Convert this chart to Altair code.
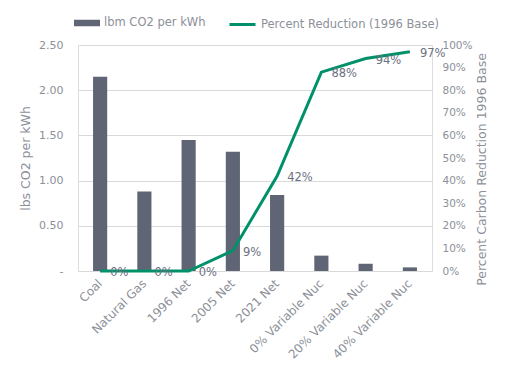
import altair as alt
import pandas as pd

categories = ["Coal", "Natural Gas", "1996 Net", "2005 Net", "2021 Net",
              "0% Variable Nuc", "20% Variable Nuc", "40% Variable Nuc"]
lbs_per_kwh = [2.15, 0.88, 1.45, 1.32, 0.84, 0.17, 0.08, 0.04]
pct_reduction = [0.0, 0.0, 0.0, 0.09, 0.42, 0.88, 0.94, 0.97]

BAR_NAME = "lbm CO2 per kWh"
LINE_NAME = "Percent Reduction (1996 Base)"

df = pd.DataFrame({
    "cat": categories,
    "lbs": lbs_per_kwh,
    "pct": pct_reduction,
    "bar_s": [BAR_NAME] * len(categories),
    "line_s": [LINE_NAME] * len(categories),
})

FONT = "DejaVu Sans"
AXIS_GREY = "#8c9099"
LABEL_GREY = "#6b7080"
BAR_C = "#5f6575"
LINE_C = "#00916a"

x = alt.X("cat:N", sort=categories, title=None,
          scale=alt.Scale(paddingInner=0.68, paddingOuter=0.34),
          axis=alt.Axis(labelAngle=315, labelAlign="right", labelBaseline="middle",
                        labelPadding=10, ticks=False, domainColor="#d9d9d9",
                        labelColor=AXIS_GREY, labelFontSize=12, labelFont=FONT,
                        labelLimit=0))

bars = alt.Chart(df).mark_bar(color=BAR_C).encode(
    x=x,
    y=alt.Y("lbs:Q", title="lbs CO2 per kWh",
            scale=alt.Scale(domain=[0, 2.5], nice=False),
            axis=alt.Axis(values=[0, 0.5, 1.0, 1.5, 2.0, 2.5],
                          labelExpr="datum.value == 0 ? '-' : format(datum.value, '.2f')",
                          grid=True, gridColor="#d9d9d9", domain=False, ticks=False,
                          labelPadding=15, labelColor=AXIS_GREY, labelFontSize=11,
                          labelFont=FONT, titleColor=AXIS_GREY, titleFont=FONT,
                          titleFontSize=12.5, titleFontWeight="normal", titlePadding=6)),
    fill=alt.Fill("bar_s:N", scale=alt.Scale(domain=[BAR_NAME], range=[BAR_C]),
                  legend=alt.Legend(title=None, orient="none", legendX=-4, legendY=-35,
                                    symbolType="M-1,-0.25H1V0.25H-1Z", symbolSize=676,
                                    symbolStrokeWidth=0, labelOffset=4, padding=0,
                                    labelLimit=0,
                                    labelColor=AXIS_GREY, labelFontSize=11.5, labelFont=FONT)),
)

y_pct = alt.Y("pct:Q", title="Percent Carbon Reduction 1996 Base",
              scale=alt.Scale(domain=[0, 1], nice=False),
              axis=alt.Axis(orient="right", values=[i / 10 for i in range(11)], format=".0%",
                            grid=False, domain=False, ticks=False, labelPadding=10,
                            labelColor=AXIS_GREY, labelFontSize=10.5, labelFont=FONT,
                            titleColor=AXIS_GREY, titleFont=FONT, titleFontSize=12.5,
                            titleFontWeight="normal", titleAngle=270, titlePadding=16,
                            titleY=124))

line = alt.Chart(df).mark_line(color=LINE_C, strokeWidth=3).encode(
    x=x,
    y=y_pct,
    stroke=alt.Stroke("line_s:N", scale=alt.Scale(domain=[LINE_NAME], range=[LINE_C]),
                      legend=alt.Legend(title=None, orient="none", legendX=150, legendY=-35,
                                        symbolType="stroke", symbolSize=676,
                                        symbolStrokeWidth=3, labelOffset=4, padding=0,
                                        labelLimit=0,
                                        labelColor=AXIS_GREY, labelFontSize=11.5, labelFont=FONT)),
)

labels = alt.Chart(df).mark_text(align="left", baseline="middle", dx=10, dy=2,
                                 font=FONT, fontSize=11.5, color=LABEL_GREY).encode(
    x=x,
    y=y_pct,
    text=alt.Text("pct:Q", format=".0%"),
)

chart = alt.layer(bars, alt.layer(line, labels)).resolve_scale(y="independent").properties(
    width=354, height=226,
    autosize=alt.AutoSizeParams(type="none"),
    padding={"left": 70, "top": 37, "right": 69, "bottom": 92},
).configure_view(stroke=None).configure(background="white")

chart.save("out.html", embed_options={"renderer": "svg", "actions": False})
